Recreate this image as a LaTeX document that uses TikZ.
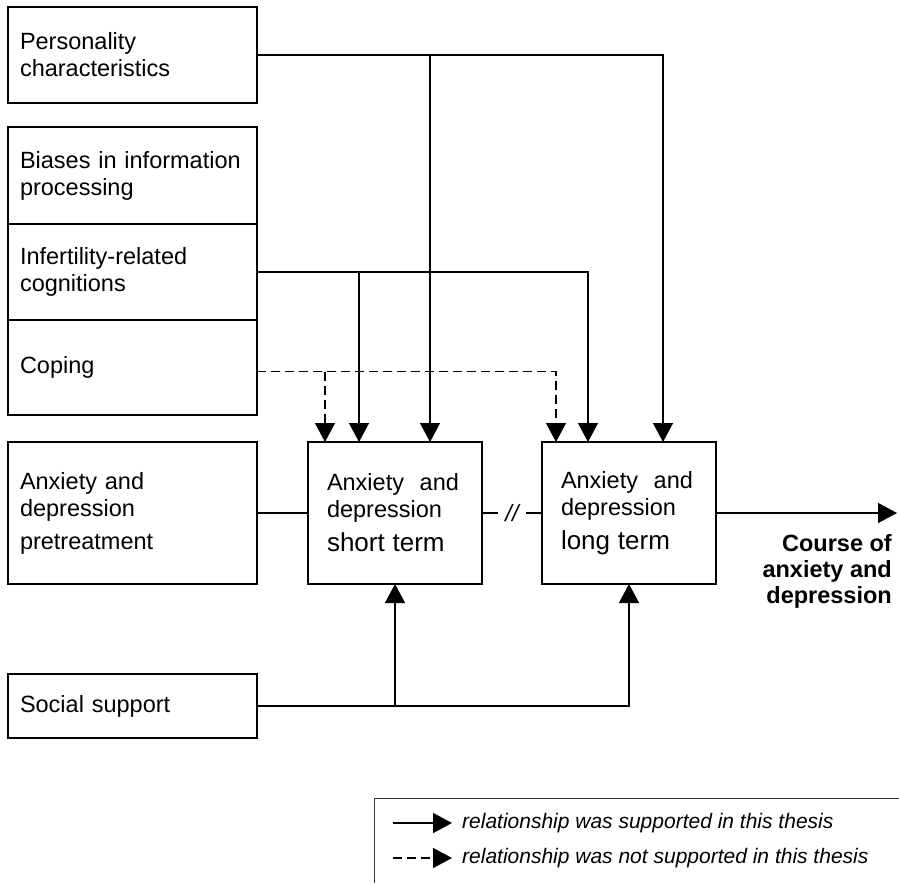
\documentclass[tikz,border=0pt]{standalone}
\usepackage{fontspec}
\setmainfont{Liberation Sans}
\usetikzlibrary{positioning,arrows.meta}

\begin{document}
\begin{tikzpicture}[x=1pt, y=-1pt]
   \tikzset{
     box/.style        = { draw,
                           line width    = 1.4pt,
                           outer sep     = 0pt,
                           align         = left,
                           inner xsep    = 12pt,
                           text width    = 225pt,
                           minimum width = 249pt,
                           font          = \fontsize{23.5}{27}\selectfont },
     termbox/.style    = { box,
                           inner xsep     = 19pt,
                           text width     = 136pt,
                           minimum width  = 174pt,
                           minimum height = 142pt },
     link/.style       = { line width = 1.4pt },
     arrow/.style      = { link, -{Triangle[width=20pt, length=19pt]} },
     weak/.style       = { arrow, dash pattern = on 9pt off 5pt },
     legendtext/.style = { inner xsep = 10pt,
                           font       = \itshape\fontsize{21}{24}\selectfont },
  }

  \useasboundingbox (0,0) rectangle (899,883);

  % predictors
  \node [box, minimum height = 96pt, anchor = north west] (pers) at (8,7)
    {Personality\\characteristics};

  \node [box, minimum height = 97pt, anchor = north west] (bias) at (8,127)
    {Biases in information\\processing};
  \node [box, minimum height = 96pt, below = 0pt of bias] (cogn)
    {Infertility-related\\cognitions};
  \node [box, minimum height = 95pt, below = 0pt of cogn] (coping)
    {Coping};

  \node [box, minimum height = 142pt, anchor = north west] (pre) at (8,442)
    {Anxiety and\\depression\\[6pt]pretreatment};

  \node [box, minimum height = 64pt, anchor = north west] (social) at (8,674)
    {Social support};

  % outcomes
  \node [termbox, right = 51pt of pre] (short)
    {Anxiety\ \ and\\depression\\[7pt]{\fontsize{26}{29}\selectfont short term}};
  \node [termbox, right = 60pt of short] (long)
    {Anxiety\ \ and\\depression\\[7pt]{\fontsize{26}{29}\selectfont long term}};

  \coordinate (courseEnd) at (897,513);
  \node [align = right, inner sep = 0pt, anchor = north east,
         font = \bfseries\fontsize{23.5}{26}\selectfont] (course) at (892,534)
    {Course of\\anxiety and\\depression};

  % connections
  \draw [arrow] (pers.east) -| ([xshift=34pt]long.north);
  \draw [arrow] ([xshift=35pt]short.north |- pers.east) -- ([xshift=35pt]short.north);

  \draw [arrow] (cogn.east) -| ([xshift=-41pt]long.north);
  \draw [arrow] ([xshift=-36pt]short.north |- cogn.east) -- ([xshift=-36pt]short.north);

  \draw [weak] ([yshift=-4pt]coping.east) -| ([xshift=-73pt]long.north);
  \draw [weak] ([xshift=-70pt,yshift=-4pt]short.north |- coping.east) -- ([xshift=-70pt]short.north);

  \draw [link] (pre) -- (short);
  \draw [link] (short) -- node [fill = white, inner xsep = 7pt,
                                font = \itshape\fontsize{23.5}{27}\selectfont] (gap) {//} (long);
  \draw [arrow] (long.east) -- (courseEnd);

  \draw [arrow] (social.east) -| (long.south);
  \draw [arrow] (short.south |- social.east) -- (short.south);

  % legend
  \draw [line width = 1pt, black!80] (374,883) |- (899,798);
  \node [legendtext, anchor = west] (legSupp) at (452,823)
    {relationship was supported in this thesis};
  \node [legendtext, anchor = west] (legNot) at (452,858)
    {relationship was not supported in this thesis};
  \draw [arrow] ([xshift=-59pt]legSupp.west) -- (legSupp.west);
  \draw [weak]  ([xshift=-59pt]legNot.west) -- (legNot.west);

\end{tikzpicture}
\end{document}
